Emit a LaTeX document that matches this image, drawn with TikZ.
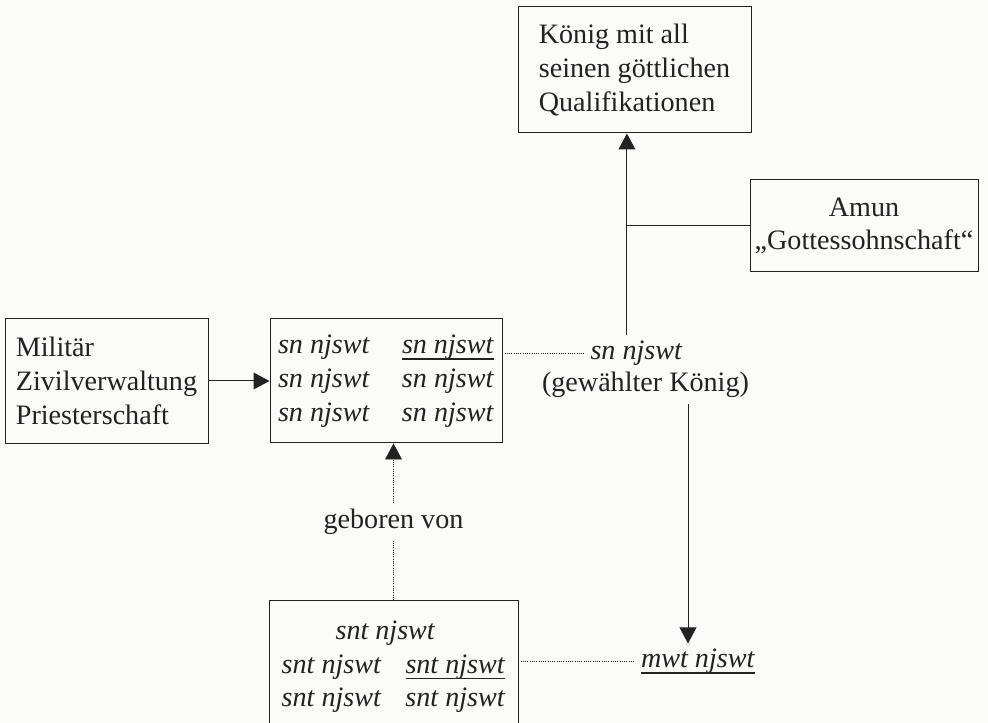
\documentclass[tikz,border=0pt]{standalone}
\usepackage{fontspec}
\setmainfont{Liberation Serif}
\usepackage{tikz}
\usepackage{xcolor}
\usetikzlibrary{arrows.meta,positioning,calc}
\definecolor{paper}{HTML}{FBFBFA}
\definecolor{ink}{HTML}{222222}
\newcommand{\snj}{\textit{sn njswt}}
\newcommand{\sntj}{\textit{snt njswt}}
\newcommand{\uline}[1]{\setbox0\hbox{#1}\rlap{\rule[-0.2em]{\wd0}{0.8pt}}\box0}
\tikzset{
  plainbox/.style={draw=ink,fill=paper,line width=0.7pt,inner sep=4pt,
                   font=\fontsize{20}{24}\selectfont,text=ink},
  plaintext/.style={inner sep=4pt,font=\fontsize{20}{24}\selectfont,text=ink},
  flowarr/.style={-{Triangle[length=0.4cm,width=0.42cm]},line width=0.7pt,draw=ink,fill=ink},
  dotline/.style={densely dotted,line width=0.6pt,draw=ink},
  dotarr/.style={densely dotted,-{Triangle[length=0.4cm,width=0.42cm]},line width=0.6pt,draw=ink,fill=ink},
  plainline/.style={line width=0.7pt,draw=ink}
}

\begin{document}
\begin{tikzpicture}[x=1cm,y=1cm,>=Latex]
  \fill[paper] (0,0) rectangle (24.7,18.075);
  \useasboundingbox (0,0) rectangle (24.7,18.075);
  \node[plainbox,align=left,minimum width=5.825cm,minimum height=3.15cm] (king) at (15.8625,16.325) {König mit all\\seinen göttlichen\\Qualifikationen};
  \node[plainbox,align=center,inner sep=2pt,minimum width=5.7cm,minimum height=2.3cm] (amun) at (21.6,12.425) {Amun\\„Gottessohnschaft“};
  \node[plainbox,align=left,minimum width=5.075cm,minimum height=3.125cm] (offices) at (2.6625,8.55) {Militär\\Zivilverwaltung\\Priesterschaft};
  \node[plainbox,minimum width=5.8cm,minimum height=3.1cm] (sons) at (9.65,8.55) {\begin{tabular}{@{}l@{\hspace{0.8cm}}l@{}}\snj&\uline{\snj}\\\snj&\snj\\\snj&\snj\end{tabular}};
  \node[plainbox,anchor=north,minimum width=6.225cm,minimum height=3.3cm] (daughters) at (9.8375,3.075) {\begin{tabular}{@{}l@{\hspace{0.6cm}}l@{}}\multicolumn{2}{c}{\sntj\hspace*{0.4cm}}\\\sntj&\uline{\sntj}\\\sntj&\sntj\end{tabular}};
  \node[plaintext,anchor=base] (elect) at (15.9125,9.075) {\snj};
  \node[plaintext,anchor=base] (electnote) at (16.1375,8.275) {(gewählter König)};
  \node[plaintext,anchor=base] (mwt) at (17.45,1.375) {\uline{\textit{mwt njswt}}};
  \coordinate (rise) at ([xshift=-0.24cm]elect.north);
  \coordinate (drop) at ([xshift=-0.25cm]mwt.north);
  \draw[flowarr] (offices)--(sons);
  \draw[flowarr] (rise)--(rise |- king.south);
  \draw[plainline] (amun.west)--(amun.west -| rise);
  \draw[dotline] (sons.east |- elect.west)--(elect.west);
  \draw[flowarr] (drop |- electnote.south)--(drop);
  \draw[dotline] (daughters.east |- mwt.west)--(mwt.west);
  \draw[dotarr] (daughters.north)--node[plaintext,fill=paper] (born) {geboren von} (daughters.north |- sons.south);
\end{tikzpicture}
\end{document}
